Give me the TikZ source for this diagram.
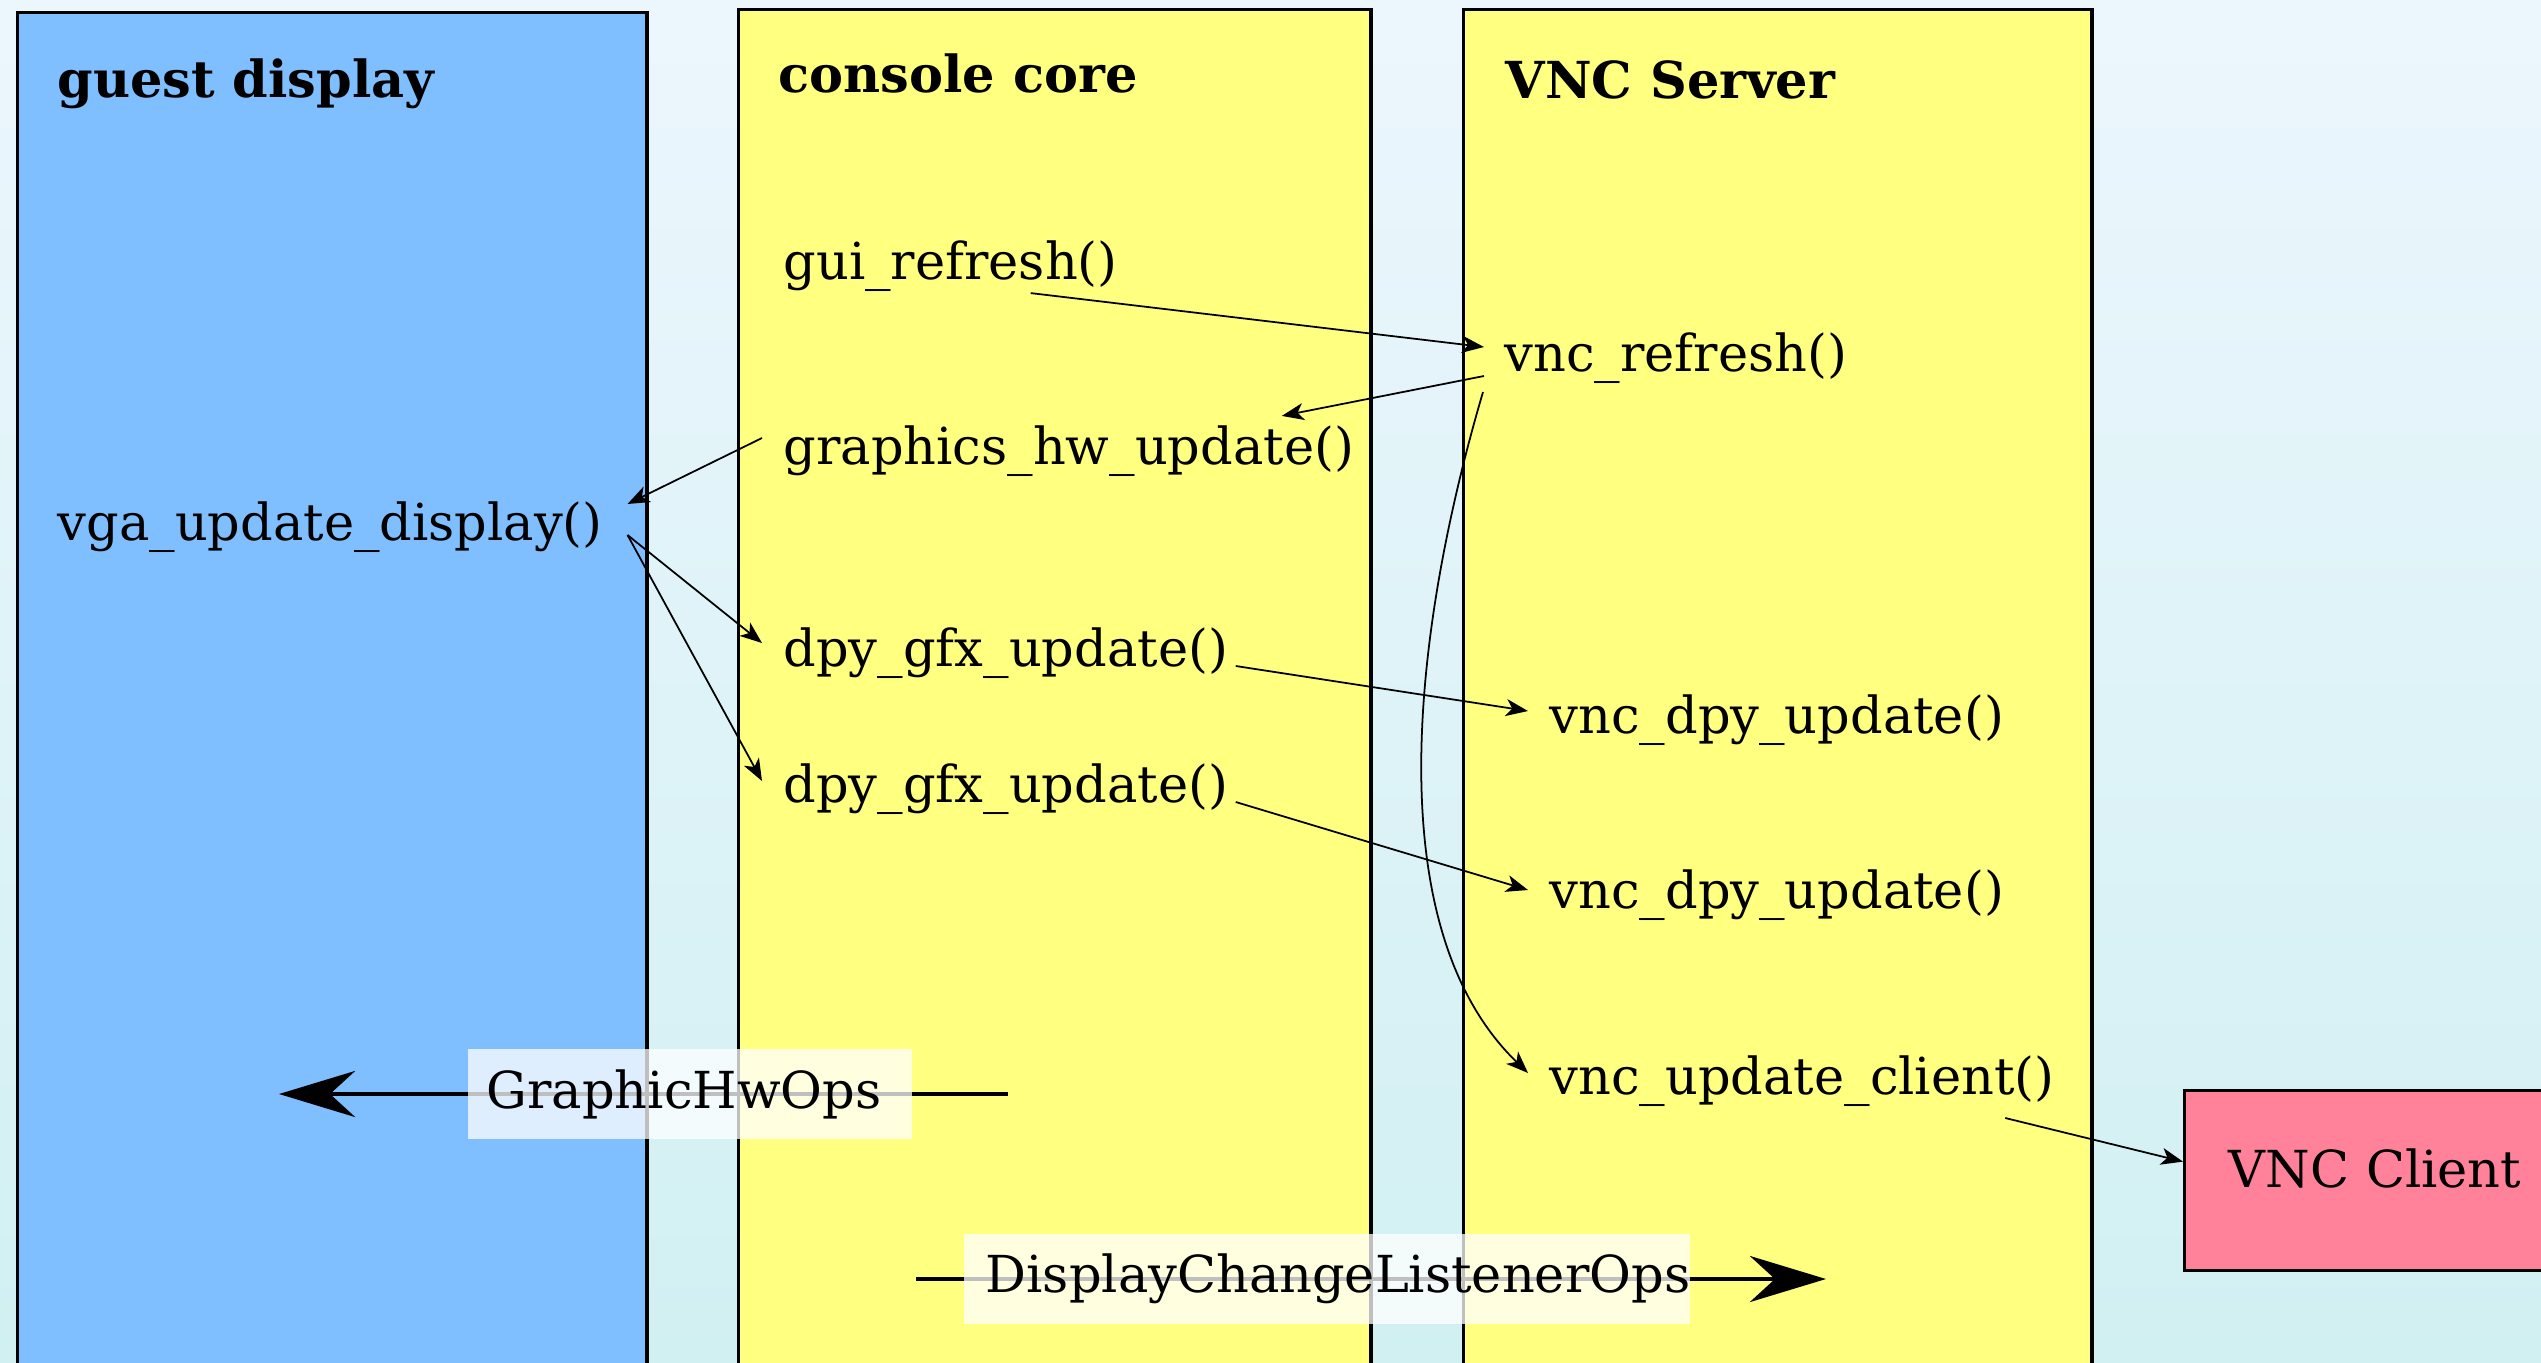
\documentclass[tikz,border=0pt]{standalone}
\usepackage{fontspec}
\setmainfont{DejaVu Serif}
\usepackage{tikz}
\usetikzlibrary{calc}
\usetikzlibrary{arrows.meta}

\definecolor{bgtop}{RGB}{236,246,253}
\definecolor{bgbottom}{RGB}{209,240,242}
\definecolor{guestblue}{RGB}{128,191,255}
\definecolor{coreyellow}{RGB}{255,255,128}
\definecolor{clientpink}{RGB}{255,130,154}

\tikzset{
  layer/.style={draw=black, line width=0.9pt, anchor=north west, inner sep=0pt, minimum height=14cm},
  title/.style={anchor=west, inner sep=0pt, font=\bfseries\fontsize{14.5}{17}\selectfont},
  fn/.style={anchor=west, inner sep=0pt, font=\fontsize{14.5}{17}\selectfont},
  call/.style={-{Stealth[length=2.2mm, width=1.7mm, inset=0.6mm]}, line width=0.5pt},
  bigarrow/.style={-{Stealth[length=7.6mm, width=4.6mm, inset=2.5mm]}, line width=1.4pt},
  oplabel/.style={anchor=west, fill=white, fill opacity=0.75, text opacity=1, inner xsep=0pt, minimum height=0.89cm, font=\fontsize{14.5}{17}\selectfont}
}

\begin{document}
\begin{tikzpicture}[x=0.01cm, y=-0.01cm]
\useasboundingbox (0,0) rectangle (2541,1363);
\clip (0,0) rectangle (2541,1363);
\shade[top color=bgtop, bottom color=bgbottom] (0,0) rectangle (2541,1363);

\node[layer, fill=guestblue, minimum width=6.29cm] (guest) at (16,11) {};
\node[layer, fill=coreyellow, minimum width=6.32cm] (core) at (737,8) {};
\node[layer, fill=coreyellow, minimum width=6.28cm] (server) at (1462,8) {};
\node[draw=black, line width=0.9pt, fill=clientpink, anchor=north west, minimum height=1.8cm,
      text width=3.5cm, inner xsep=0.44cm, inner ysep=0pt, text height=0.97cm, text depth=0.83cm,
      font=\fontsize{14.5}{17}\selectfont] (client) at (2183,1089) {VNC Client};

\node[title] (guesttitle) at (57,84) {guest display};
\node[title] (coretitle) at (778,73) {console core};
\node[title] (servertitle) at (1505,80) {VNC Server};

\node[fn] (gui) at (783,266) {gui\_refresh()};
\node[fn] (vncref) at (1504,358) {vnc\_refresh()};
\node[fn] (ghw) at (783,451) {graphics\_hw\_update()};
\node[fn] (vga) at (57,527) {vga\_update\_display()};
\node[fn] (dpya) at (783,653) {dpy\_gfx\_update()};
\node[fn] (dpyb) at (783,789) {dpy\_gfx\_update()};
\node[fn] (vdpya) at (1549,720) {vnc\_dpy\_update()};
\node[fn] (vdpyb) at (1549,895) {vnc\_dpy\_update()};
\node[fn] (vupd) at (1549,1081) {vnc\_update\_client()};

\draw[call] ($(gui.south)+(80,1)$) -- ($(vncref.west)+(-20,-11)$);
\draw[call] ($(vncref.west)+(-20,18)$) -- ($(ghw.north east)+(-73,-9)$);
\draw[call] ($(ghw.west)+(-21,-13)$) -- ($(vga.east)+(24,-23)$);
\draw[call] ($(vga.east)+(24,8)$) -- ($(dpya.west)+(-21,-10)$);
\draw[call] ($(vga.east)+(24,8)$) -- ($(dpyb.west)+(-21,-8)$);
\draw[call] ($(dpya.east)+(7,13)$) -- ($(vdpya.west)+(-21,-9)$);
\draw[call] ($(dpyb.east)+(7,13)$) -- ($(vdpyb.west)+(-21,-5)$);
\draw[call] ($(vncref.west)+(-21,34)$) .. controls +(-73,248) and +(-148,-143) .. ($(vupd.west)+(-21,-8)$);
\draw[call] ($(vupd.east)+(-50,37)$) -- ($(client.west)+(0,-19)$);

\coordinate (ghwfrom) at (1008,1094);
\coordinate (ghwto) at (279,1094);
\draw[bigarrow] (ghwfrom) -- (ghwto);
\node[oplabel] (ghwops) at (467,1094) {\hspace*{0.19cm}GraphicHwOps\hspace*{0.31cm}};

\coordinate (dclfrom) at (916,1279);
\coordinate (dclto) at (1826,1279);
\draw[bigarrow] (dclfrom) -- (dclto);
\node[oplabel] (dclops) at (963,1279) {\hspace*{0.22cm}DisplayChangeListenerOps};
\end{tikzpicture}
\end{document}
